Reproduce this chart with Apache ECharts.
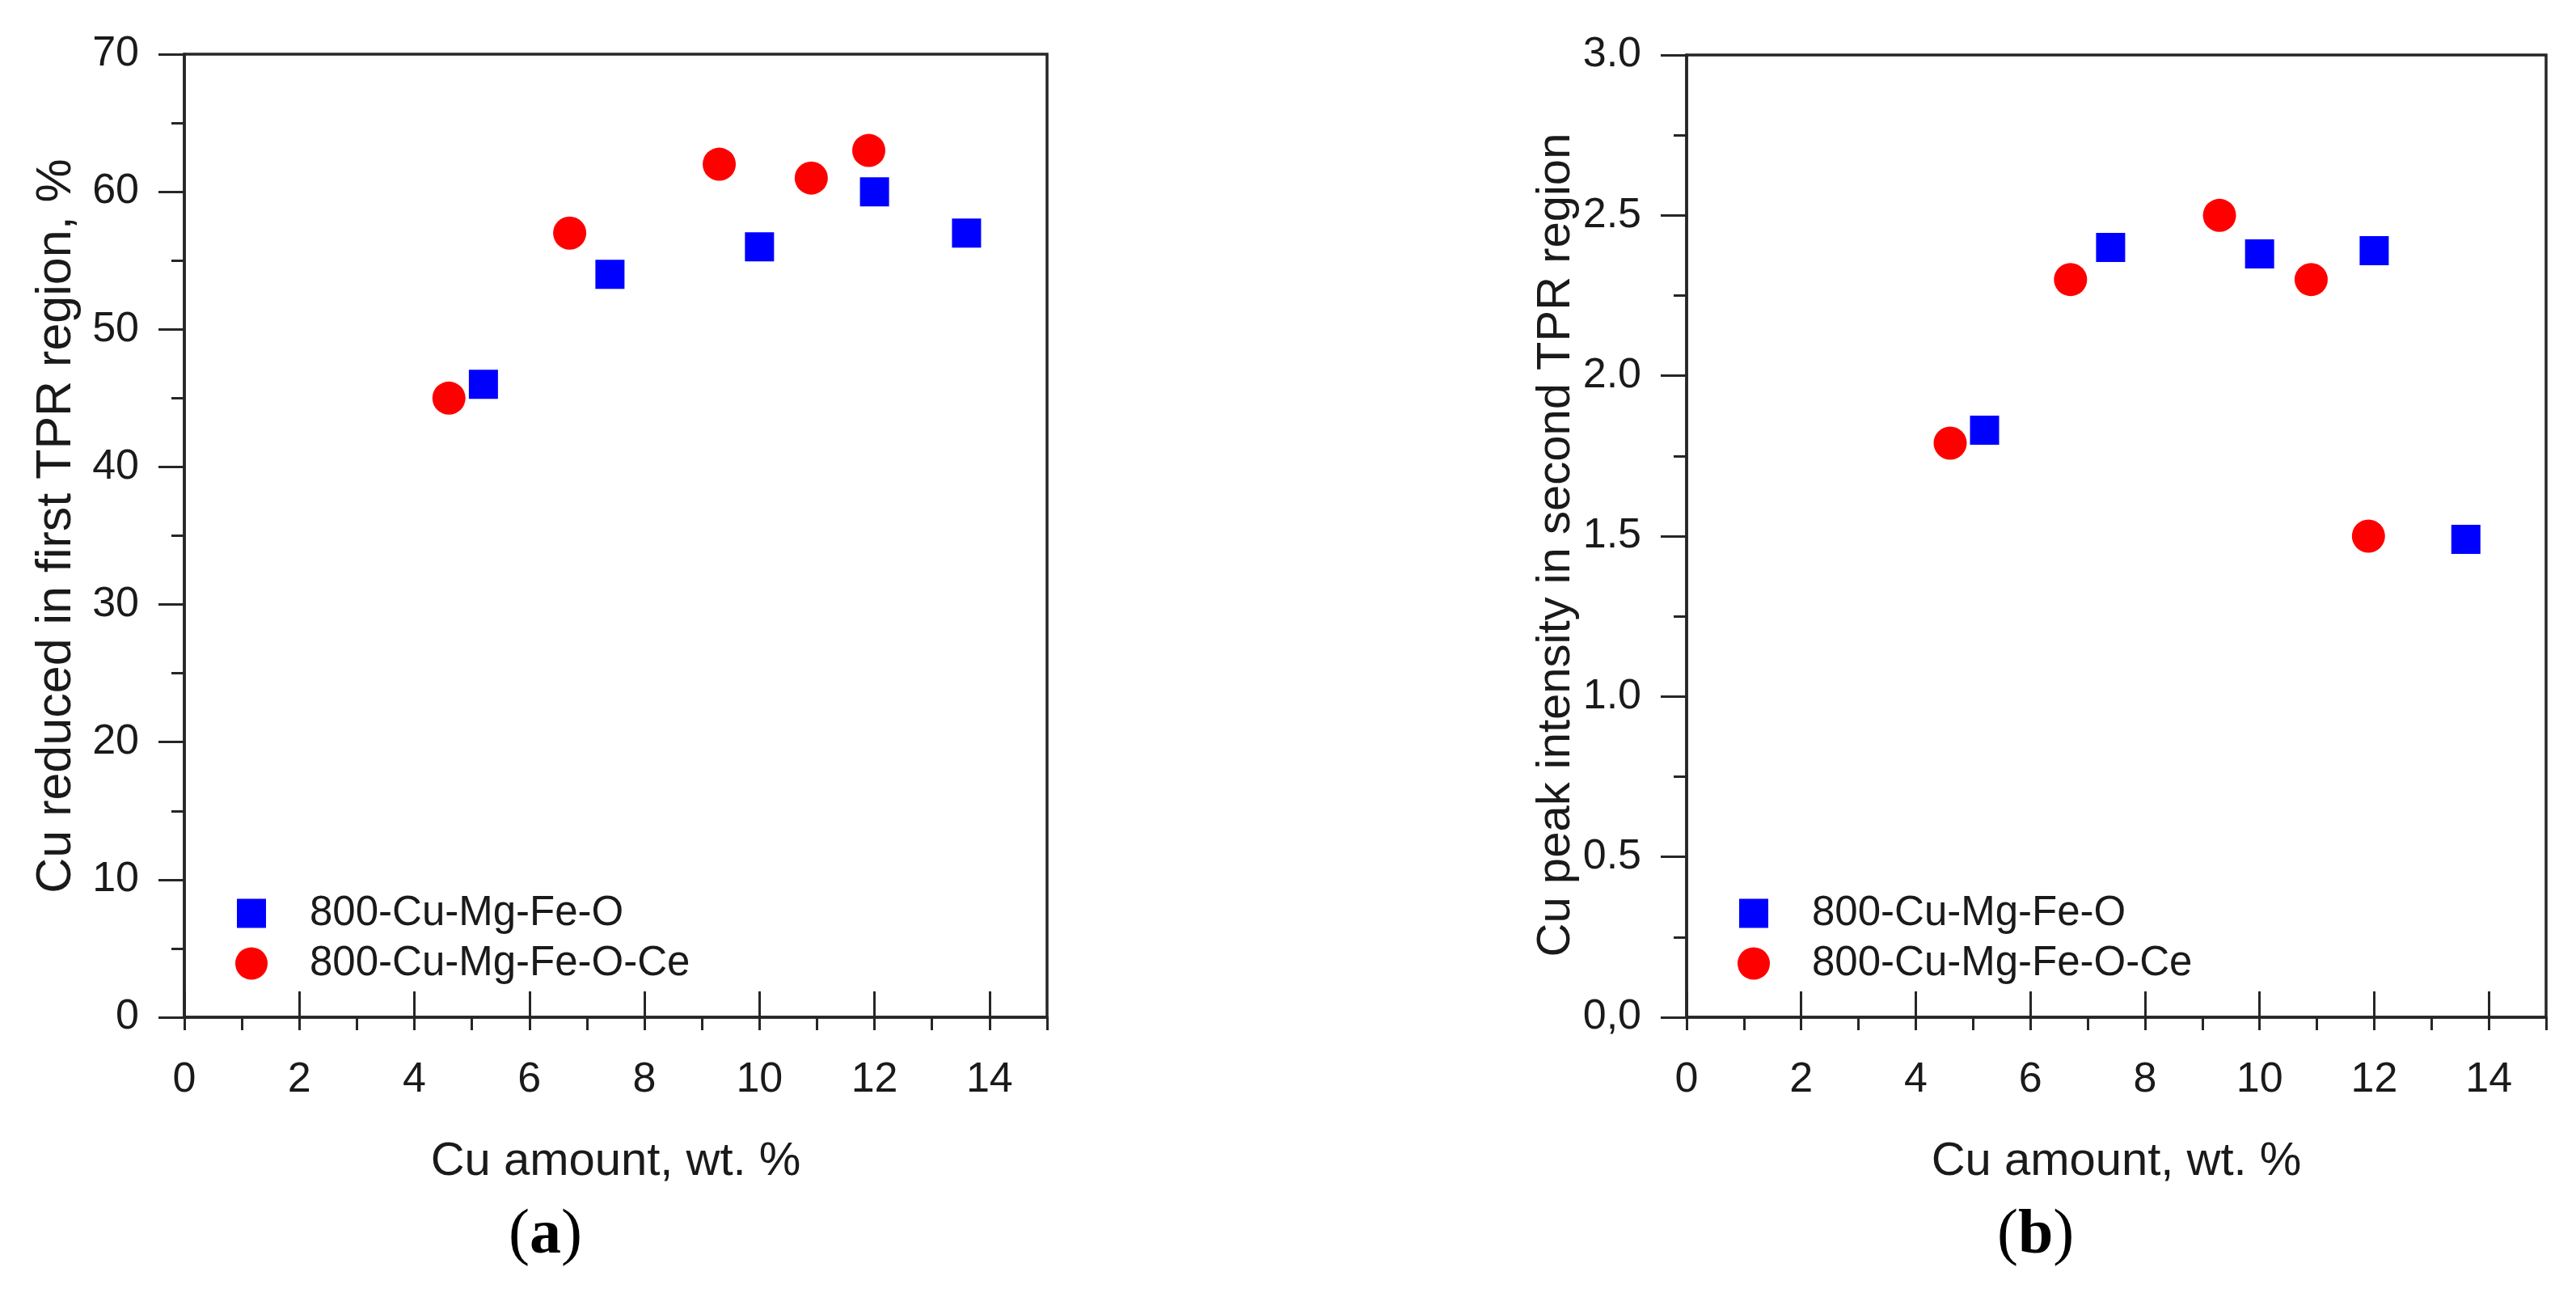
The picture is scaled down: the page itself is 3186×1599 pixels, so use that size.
<!DOCTYPE html>
<html>
<head>
<meta charset="utf-8">
<script src="https://cdn.jsdelivr.net/npm/echarts@6/dist/echarts.min.js"></script>
<style>
html,body{margin:0;padding:0;background:#fff;}
#chart{width:3186px;height:1599px;}
</style>
</head>
<body>
<div id="chart"></div>
<script>
// ---- Data ----
const seriesNames = ['800-Cu-Mg-Fe-O', '800-Cu-Mg-Fe-O-Ce'];

// Panel (a): Cu reduced in first TPR region, %
const aSquareX = [5.2, 7.4, 10.0, 12.0, 13.6];
const aSquareY = [46, 54, 56, 60, 57];
const aCircleX = [4.6, 6.7, 9.3, 10.9, 11.9];
const aCircleY = [45, 57, 62, 61, 63];

// Panel (b): Cu peak intensity in second TPR region
const bSquareX = [5.2, 7.4, 10.0, 12.0, 13.6];
const bSquareY = [1.83, 2.40, 2.38, 2.39, 1.49];
const bCircleX = [4.6, 6.7, 9.3, 10.9, 11.9];
const bCircleY = [1.79, 2.30, 2.50, 2.30, 1.50];

// Tick labels
const xTickValues = [0, 2, 4, 6, 8, 10, 12, 14];
const xTickLabels = ['0', '2', '4', '6', '8', '10', '12', '14'];
const aYTickLabels = ['0', '10', '20', '30', '40', '50', '60', '70'];
const bYTickLabels = ['0,0', '0.5', '1.0', '1.5', '2.0', '2.5', '3.0'];

const xTitle = 'Cu amount, wt. %';
const aYTitle = 'Cu reduced in first TPR region, %';
const bYTitle = 'Cu peak intensity in second TPR region';
const panelLabels = ['a', 'b'];

// ---- Styling ----
const FONT = '"Liberation Sans", Arial, sans-serif';
const SERIF = '"Liberation Serif", "Times New Roman", serif';
const AXIS_COLOR = '#262626';
const TEXT_COLOR = '#1a1a1a';
const BLUE = '#0000ff';
const RED = '#ff0000';

const grids = [
  { left: 228, top: 67, width: 1067, height: 1191 },
  { left: 2086, top: 68, width: 1063, height: 1190 }
];

function zip(xs, ys) { return xs.map((x, i) => [x, ys[i]]); }

function xAxesFor(gridIndex) {
  return [
    { // minor ticks at every integer + labels
      type: 'value', gridIndex, min: 0, max: 15, interval: 1,
      axisLine: { show: true, onZero: false, lineStyle: { color: AXIS_COLOR, width: 3.5 } },
      axisTick: { show: true, length: 16, lineStyle: { color: AXIS_COLOR, width: 3 } },
      axisLabel: {
        show: true, margin: 52, fontSize: 52, fontFamily: FONT, color: TEXT_COLOR,
        formatter: v => { const i = xTickValues.indexOf(v); return i >= 0 ? xTickLabels[i] : ''; }
      },
      splitLine: { show: false },
      name: xTitle, nameLocation: 'middle', nameGap: 150,
      nameTextStyle: { fontSize: 58, fontFamily: FONT, color: TEXT_COLOR }
    },
    { // major ticks
      type: 'value', gridIndex, min: 0, max: 15, interval: 1,
      axisLine: { show: false },
      axisTick: { show: true, length: 32, customValues: xTickValues, lineStyle: { color: AXIS_COLOR, width: 3 } },
      axisLabel: { show: false },
      splitLine: { show: false }
    }
  ];
}

function yAxisFor(gridIndex, max, interval, labels, title, nameGap, nameFont, namePadding) {
  return {
    type: 'value', gridIndex, min: 0, max, interval,
    axisLine: { show: true, onZero: false, lineStyle: { color: AXIS_COLOR, width: 3.5 } },
    axisTick: { show: true, length: 32, lineStyle: { color: AXIS_COLOR, width: 3 } },
    minorTick: { show: true, splitNumber: 2, length: 16, lineStyle: { color: AXIS_COLOR, width: 3 } },
    axisLabel: {
      show: true, margin: 56, fontSize: 52, fontFamily: FONT, color: TEXT_COLOR,
      formatter: v => labels[Math.round(v / interval)]
    },
    splitLine: { show: false },
    minorSplitLine: { show: false },
    name: title, nameLocation: 'middle', nameGap,
    nameTextStyle: { fontSize: nameFont, fontFamily: FONT, color: TEXT_COLOR, padding: namePadding }
  };
}

function legendsFor(gridIndex) {
  const g = grids[gridIndex];
  const cx = g.left + 83;
  return [
    {
      data: [seriesNames[0]], orient: 'vertical', left: cx - 18, top: 1104, padding: 0,
      icon: 'rect', itemWidth: 36, itemHeight: 36, selectedMode: false,
      textStyle: { fontSize: 51, fontFamily: FONT, color: TEXT_COLOR, padding: [0, 0, 0, 49] }
    },
    {
      data: [seriesNames[1]], orient: 'vertical', left: cx - 20, top: 1166, padding: 0,
      icon: 'circle', itemWidth: 40, itemHeight: 40, selectedMode: false,
      textStyle: { fontSize: 51, fontFamily: FONT, color: TEXT_COLOR, padding: [0, 0, 0, 47] }
    }
  ];
}

function scatter(name, xIdx, yIdx, data, symbol, size, color) {
  return {
    type: 'scatter', name, xAxisIndex: xIdx, yAxisIndex: yIdx, data,
    symbol, symbolSize: size, itemStyle: { color, opacity: 1 },
    emphasis: { disabled: true }, silent: true, z: 5
  };
}

function panelTitle(letter, left) {
  return {
    text: '({b|' + letter + '})', left, top: 1490, padding: 0,
    textStyle: { fontSize: 78, fontFamily: SERIF, fontWeight: 'normal', color: '#000',
      rich: { b: { fontSize: 78, fontFamily: SERIF, fontWeight: 'bold', color: '#000' } } }
  };
}

const option = {
  animation: false,
  backgroundColor: '#ffffff',
  grid: grids.map(g => Object.assign({ show: true, borderColor: AXIS_COLOR, borderWidth: 3.5, backgroundColor: 'transparent' }, g)),
  xAxis: [...xAxesFor(0), ...xAxesFor(1)],
  yAxis: [
    yAxisFor(0, 70, 10, aYTickLabels, aYTitle, 127, 61, [0, 0, 0, 24]),
    yAxisFor(1, 3, 0.5, bYTickLabels, bYTitle, 125, 58, [0, 22, 0, 0])
  ],
  legend: [...legendsFor(0), ...legendsFor(1)],
  title: [panelTitle(panelLabels[0], 629), panelTitle(panelLabels[1], 2470)],
  series: [
    scatter(seriesNames[0], 0, 0, zip(aSquareX, aSquareY), 'rect', 36, BLUE),
    scatter(seriesNames[1], 0, 0, zip(aCircleX, aCircleY), 'circle', 41, RED),
    scatter(seriesNames[0], 2, 1, zip(bSquareX, bSquareY), 'rect', 36, BLUE),
    scatter(seriesNames[1], 2, 1, zip(bCircleX, bCircleY), 'circle', 41, RED)
  ]
};

const chart = echarts.init(document.getElementById('chart'), null, { renderer: 'canvas' });
chart.setOption(option);
</script>
</body>
</html>
